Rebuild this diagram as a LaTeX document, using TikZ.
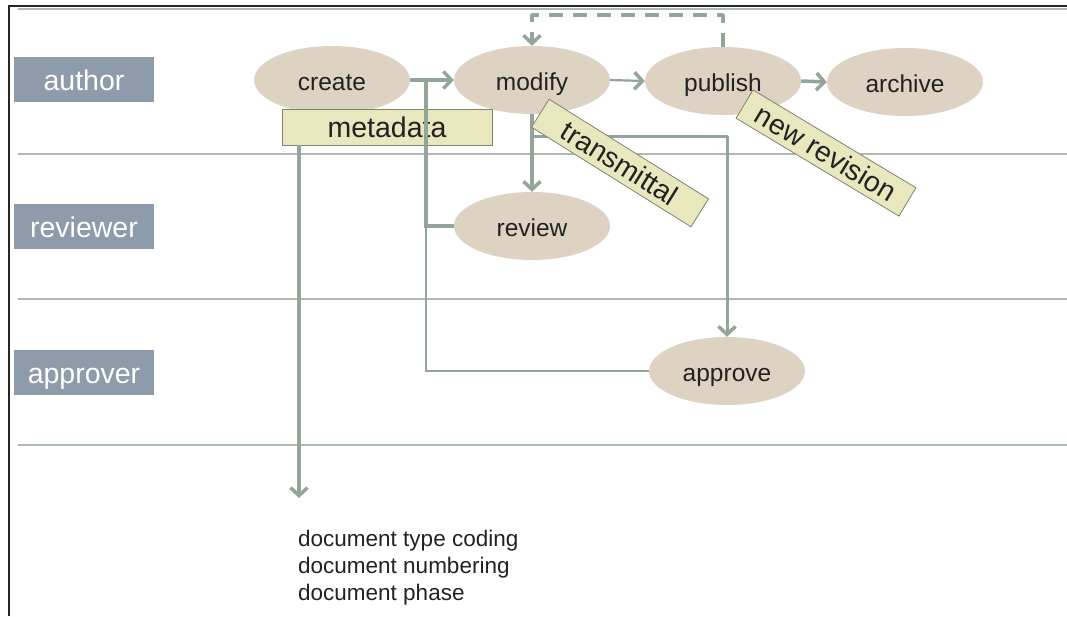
\documentclass[tikz,border=0pt]{standalone}
\usepackage{fontspec}
\setmainfont{Liberation Sans}
\usetikzlibrary{shapes.geometric,arrows.meta}

\definecolor{lanebox}{HTML}{8D9BAB}
\definecolor{task}{HTML}{DED2C3}
\definecolor{flow}{HTML}{93A598}
\definecolor{laneline}{HTML}{ABBBB2}
\definecolor{tag}{HTML}{E9E7BE}
\definecolor{tagedge}{HTML}{7E8270}
\definecolor{ink}{HTML}{222222}

\tikzset{
  lanelabel/.style={fill=lanebox, text=white, minimum width=140pt, minimum height=45pt,
    inner sep=0pt, text height=22pt, text depth=0pt, font=\fontsize{28.5}{30}\selectfont},
  task/.style={ellipse, fill=task, text=ink, minimum width=156pt, minimum height=68pt,
    inner sep=0pt, text height=20pt, text depth=0pt, font=\fontsize{24.5}{28}\selectfont},
  tagbox/.style={fill=tag, draw=tagedge, line width=0.8pt, text=ink, inner sep=0pt,
    font=\fontsize{28.5}{30}\selectfont},
  conn/.style={draw=flow, line width=3.5pt, line join=round,
    -{Straight Barb[length=8pt,width=17pt,line width=3.5pt]}},
  link/.style={draw=flow, line width=3.5pt, line join=miter},
  thinlink/.style={draw=flow, line width=2.2pt},
  lane/.style={draw=laneline, line width=1.5pt},
}

\begin{document}
\begin{tikzpicture}[x=1pt,y=-1pt]
  \useasboundingbox (0,0) rectangle (1067,616);
  \fill[white] (0,0) rectangle (1067,616);

  % frame and swimlane separators
  \draw[black!85, line width=2pt] (9,616) -- (9,6) -- (1067,6);
  \draw[lane] (18,9) -- (1067,9);
  \draw[lane] (18,154) -- (1067,154);
  \draw[lane] (18,299) -- (1067,299);
  \draw[lane] (18,445) -- (1067,445);

  % lane titles
  \node[lanelabel] (lauthor)   at (84,79.5) {author};
  \node[lanelabel] (lreviewer) at (84,226)  {reviewer};
  \node[lanelabel] (lapprover) at (84,372)  {approver};

  % activities
  \node[task] (create)  at (332,80)  {create};
  \node[task] (modify)  at (532,80)  {modify};
  \node[task] (publish) at (723,81)  {publish};
  \node[task] (archive) at (905,82)  {archive};
  \node[task] (review)  at (532,226) {review};
  \node[task] (approve) at (727,371) {approve};

  \node[tagbox, minimum width=210pt, minimum height=36pt] (metadata) at (387,127) {metadata};

  % helper points for the routed connectors
  \coordinate (join)  at (426,80);
  \coordinate (top)   at (0,15);
  \coordinate (split) at (0,136);
  \coordinate (mdend) at (299,498);

  % return paths from review and approval
  \draw[thinlink] (approve.west) -| (join);
  \draw[link] (review.west) -| (join);

  % main flow
  \draw[conn] (create.east) -- (modify.west);
  \draw[conn, line width=2.2pt] (modify.east) -- (publish.west);
  \draw[conn] (publish.east) -- (archive.west);
  \draw[conn, dash pattern=on 14pt off 10pt]
    (publish.north) -- (publish.north |- top) -- (modify.north |- top) -- (modify.north);
  \draw[conn] (modify.south) -- (review.north);
  \draw[conn, line width=3pt] (modify.south |- split) -- (approve.north |- split) -- (approve.north);
  \draw[conn] (metadata.south -| mdend) -- (mdend);

  % annotations
  \node[tagbox, minimum width=188pt, minimum height=33pt, rotate=-32] (transmittal) at (620,163) {transmittal};
  \node[tagbox, minimum width=190pt, minimum height=33pt, rotate=-31] (newrev) at (826,153) {new revision};

  \node[anchor=north west, align=left, text=ink, inner sep=0pt,
        font=\fontsize{22.5}{27}\selectfont] (attrs) at (298,530)
    {document type coding\\document numbering\\document phase};
\end{tikzpicture}
\end{document}
